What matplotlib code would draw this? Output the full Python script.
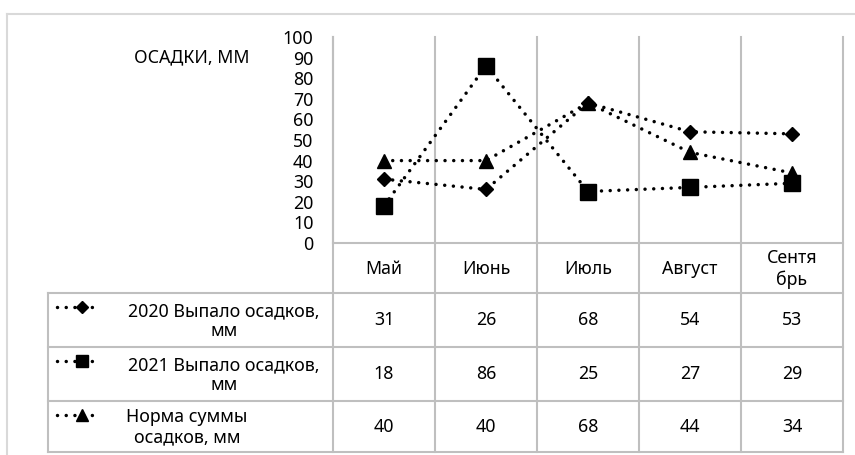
import matplotlib.pyplot as plt

months = ['Май', 'Июнь', 'Июль', 'Август', 'Сентя\nбрь']
rain_2020 = [31, 26, 68, 54, 53]
rain_2021 = [18, 86, 25, 27, 29]
rain_norm = [40, 40, 68, 44, 34]
names = ['2020 Выпало осадков,\nмм', '2021 Выпало осадков,\nмм', 'Норма суммы\nосадков, мм']
markers = ['D', 's', '^']
msizes = [7.5, 11.5, 10.5]
series = [rain_2020, rain_2021, rain_norm]

plt.rcParams['font.family'] = ['Noto Sans', 'DejaVu Sans']
FS = 12.8
GRID = '#bfbfbf'
W, H = 855, 455

fig = plt.figure(figsize=(W / 100, H / 100), dpi=100)

# pixel-space layer for the frame and the data table
bg = fig.add_axes([0, 0, 1, 1])
bg.set_xlim(0, W)
bg.set_ylim(H, 0)
bg.axis('off')

x0, x1 = 333, 843          # plot area left/right
ytop, y0 = 37, 243         # plot area top / zero line
leg_left = 48
rows = [243, 293, 347, 401, 452]
col_w = (x1 - x0) / len(months)
col_edges = [x0 + i * col_w for i in range(len(months) + 1)]

# outer chart frame
bg.plot([7, W], [14, 14], color='#d9d9d9', lw=1.5)
bg.plot([7, 7], [14, H], color='#d9d9d9', lw=1.5)

# table lines
for xe in col_edges:
    bg.plot([xe, xe], [ytop, rows[-1]], color=GRID, lw=1.5, zorder=1)
bg.plot([x0, x1], [rows[0], rows[0]], color=GRID, lw=1.5)
for yr in rows[1:]:
    bg.plot([leg_left, x1], [yr, yr], color=GRID, lw=1.5)
bg.plot([leg_left, leg_left], [rows[1], rows[-1]], color=GRID, lw=1.5)

# header row
for i, m in enumerate(months):
    bg.text(x0 + (i + 0.5) * col_w, (rows[0] + rows[1]) / 2 + 1, m, ha='center', va='center',
            fontsize=FS, linespacing=1.2)

dots = (0, (0.01, 2.5))
text_cx = [224, 224, 187]
for r, (vals, name, mk, ms) in enumerate(zip(series, names, markers, msizes)):
    ya, yb = rows[r + 1], rows[r + 2]
    yc = (ya + yb) / 2
    # legend key
    ky = ya + 14
    bg.plot([57, 100], [ky, ky], color='black', lw=2.5, linestyle=dots, dash_capstyle='round')
    bg.plot([82], [ky], marker=mk, color='black', markersize=ms * 0.8, linestyle='none')
    bg.text(text_cx[r], yc + 1, name, ha='center', va='center', fontsize=FS,
            linespacing=1.15, multialignment='center')
    for i, v in enumerate(vals):
        bg.text(x0 + (i + 0.5) * col_w, yc, str(v), ha='center', va='center', fontsize=FS)

# y-axis title
bg.text(249, 57, 'ОСАДКИ, ММ', ha='right', va='center', fontsize=FS)

# line chart
ax = fig.add_axes([x0 / W, (H - y0) / H, (x1 - x0) / W, (y0 - ytop) / H])
ax.patch.set_alpha(0)
ax.set_xlim(-0.5, len(months) - 0.5)
ax.set_ylim(0, 100)
for s in ['top', 'right', 'bottom']:
    ax.spines[s].set_visible(False)
ax.spines['left'].set_color(GRID)
ax.spines['left'].set_linewidth(1.5)
ax.set_xticks([])
ax.set_yticks(range(0, 101, 10))
ax.tick_params(axis='y', length=0, pad=14, labelsize=FS)

xs = range(len(months))
for vals, mk, ms in zip(series, markers, msizes):
    ax.plot(xs, vals, color='black', lw=2.5, linestyle=dots, dash_capstyle='round',
            marker=mk, markersize=ms, clip_on=False)

fig.savefig('out.png', dpi=100)
